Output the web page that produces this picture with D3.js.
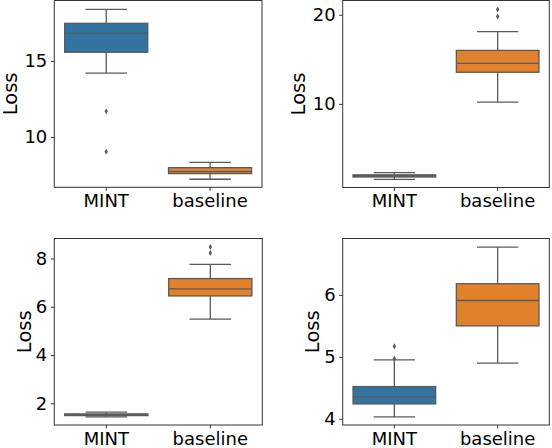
<!DOCTYPE html>
<html><head><meta charset="utf-8">
<script src="https://cdn.jsdelivr.net/npm/d3@7"></script>
<style>body{margin:0;background:#fff}svg{display:block}text{font-family:"DejaVu Sans",sans-serif;fill:#000}</style>
</head><body><svg id="c" width="552" height="448"></svg>
<script>
const categories = ["MINT", "baseline"];
const colors = ["#3274a1", "#e1812c"];
// each: [whiskerLow, q1, median, q3, whiskerHigh]
const panel1Boxes = [[14.2, 15.57, 16.83, 17.47, 18.39], [7.23, 7.6, 7.73, 7.99, 8.34]];
const panel1Outliers = [[11.69, 9.04], []];
const panel1Ticks = [10, 15];
const panel1Domain = [6.7, 18.97];

const panel2Boxes = [[1.54, 1.8, 1.92, 2.04, 2.28], [10.19, 13.55, 14.55, 16.0, 18.1]];
const panel2Outliers = [[], [19.81, 20.59]];
const panel2Ticks = [10, 20];
const panel2Domain = [0.62, 21.6];

const panel3Boxes = [[1.44, 1.49, 1.52, 1.56, 1.63], [5.49, 6.45, 6.74, 7.17, 7.76]];
const panel3Outliers = [[], [8.23, 8.48]];
const panel3Ticks = [2, 4, 6, 8];
const panel3Domain = [1.1, 8.83];

const panel4Boxes = [[4.03, 4.24, 4.35, 4.52, 4.95], [4.9, 5.5, 5.91, 6.18, 6.77]];
const panel4Outliers = [[5.17, 4.97], []];
const panel4Ticks = [4, 5, 6];
const panel4Domain = [3.9, 6.91];

const yLabel = "Loss";

const panels = [
  {boxes: panel1Boxes, outs: panel1Outliers, ticks: panel1Ticks, dom: panel1Domain, x0: 54.3, x1: 262, y0: 0.5, y1: 187.3, lab: 37.6},
  {boxes: panel2Boxes, outs: panel2Outliers, ticks: panel2Ticks, dom: panel2Domain, x0: 342.7, x1: 549.3, y0: 0.5, y1: 187.5, lab: 37.4},
  {boxes: panel3Boxes, outs: panel3Outliers, ticks: panel3Ticks, dom: panel3Domain, x0: 54.3, x1: 262.3, y0: 238.5, y1: 425, lab: 23.3},
  {boxes: panel4Boxes, outs: panel4Outliers, ticks: panel4Ticks, dom: panel4Domain, x0: 342.7, x1: 549.3, y0: 238.5, y1: 425, lab: 24}
];

const svg = d3.select("#c");
const lineCol = "#5a5a5a";

panels.forEach(p => {
  const g = svg.append("g");
  const x = d3.scaleBand().domain(categories).range([p.x0, p.x1]).padding(0);
  const y = d3.scaleLinear().domain(p.dom).range([p.y1, p.y0]);
  const bw = x.bandwidth() * 0.8;

  categories.forEach((c, i) => {
    const b = p.boxes[i];
    const cx = x(c) + x.bandwidth() / 2;
    const bg = g.append("g");
    // whiskers
    bg.append("line").attr("x1", cx).attr("x2", cx).attr("y1", y(b[0])).attr("y2", y(b[1])).attr("stroke", lineCol).attr("stroke-width", 1.3);
    bg.append("line").attr("x1", cx).attr("x2", cx).attr("y1", y(b[3])).attr("y2", y(b[4])).attr("stroke", lineCol).attr("stroke-width", 1.3);
    // caps
    [b[0], b[4]].forEach(v => {
      bg.append("line").attr("x1", cx - bw / 4).attr("x2", cx + bw / 4).attr("y1", y(v)).attr("y2", y(v)).attr("stroke", lineCol).attr("stroke-width", 1.3);
    });
    // box
    bg.append("rect").attr("x", cx - bw / 2).attr("width", bw)
      .attr("y", y(b[3])).attr("height", Math.max(0.5, y(b[1]) - y(b[3])))
      .attr("fill", colors[i]).attr("stroke", lineCol).attr("stroke-width", 1.3);
    // median
    bg.append("line").attr("x1", cx - bw / 2).attr("x2", cx + bw / 2).attr("y1", y(b[2])).attr("y2", y(b[2])).attr("stroke", lineCol).attr("stroke-width", 1.4);
    // outliers
    bg.selectAll("path.o").data(p.outs[i]).enter().append("path")
      .attr("d", d3.symbol(d3.symbolDiamond, 10)())
      .attr("transform", d => `translate(${cx},${y(d)})`)
      .attr("fill", lineCol);
  });

  // y axis
  const ya = g.append("g").attr("transform", `translate(${p.x0},0)`)
    .call(d3.axisLeft(y).tickValues(p.ticks).tickSize(3.5).tickPadding(3.5).tickFormat(d3.format("d")));
  ya.select(".domain").remove();
  ya.selectAll("line").attr("stroke", "#000").attr("stroke-width", 0.8);
  ya.selectAll("text").attr("font-size", 18).attr("font-family", "DejaVu Sans").attr("fill", "#000");

  // x axis
  const xa = g.append("g").attr("transform", `translate(0,${p.y1})`)
    .call(d3.axisBottom(x).tickSize(3.5).tickPadding(3.5));
  xa.select(".domain").remove();
  xa.selectAll("line").attr("stroke", "#000").attr("stroke-width", 0.8);
  xa.selectAll("text").attr("font-size", 18).attr("font-family", "DejaVu Sans").attr("fill", "#000");

  // frame
  g.append("rect").attr("x", p.x0).attr("y", p.y0).attr("width", p.x1 - p.x0).attr("height", p.y1 - p.y0)
    .attr("fill", "none").attr("stroke", "#333").attr("stroke-width", 1);

  // y label
  const cy = (p.y0 + p.y1) / 2;
  g.append("text").attr("transform", `translate(${p.x0 - p.lab},${cy}) rotate(-90)`)
    .attr("text-anchor", "middle").attr("font-size", 19.5).text(yLabel);
});
</script></body></html>
